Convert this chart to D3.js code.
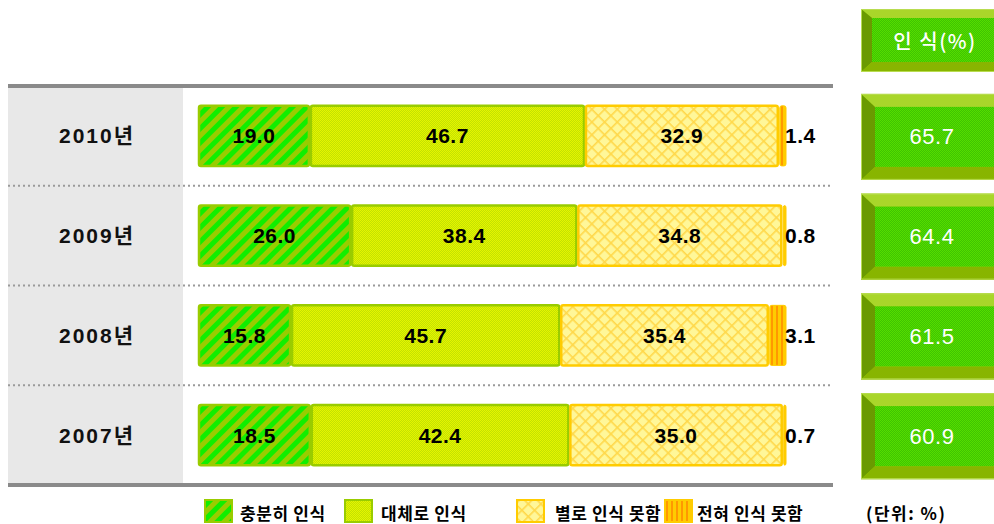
<!DOCTYPE html>
<html><head><meta charset="utf-8">
<script src="https://cdn.jsdelivr.net/npm/d3@7"></script>
<style>
html,body{margin:0;padding:0;background:#fff;}
svg{display:block;}
</style></head>
<body>
<svg id="chart" width="994" height="524"></svg>
<script>
// ---- data ----
const years = ["2010년", "2009년", "2008년", "2007년"];
const fullyAware = [19.0, 26.0, 15.8, 18.5];
const mostlyAware = [46.7, 38.4, 45.7, 42.4];
const barelyAware = [32.9, 34.8, 35.4, 35.0];
const notAware = [1.4, 0.8, 3.1, 0.7];
const awareTotal = [65.7, 64.4, 61.5, 60.9];
const seriesNames = ["충분히 인식", "대체로 인식", "별로 인식 못함", "전혀 인식 못함"];
const headerLabel = "인 식(%)";
const unitLabel = "(단위: %)";

const svg = d3.select("#chart");
const defs = svg.append("defs");

// patterns
function pat(id, w, h, draw, transform) {
  const p = defs.append("pattern").attr("id", id).attr("patternUnits", "userSpaceOnUse")
    .attr("width", w).attr("height", h);
  if (transform) p.attr("patternTransform", transform);
  draw(p);
}
pat("p0", 10, 10, p => {
  p.append("rect").attr("width", 10).attr("height", 10).attr("fill", "#99cc00");
  p.append("rect").attr("width", 5).attr("height", 10).attr("fill", "#11ee00");
}, "rotate(45)");
pat("p1", 2, 2, p => {
  p.append("rect").attr("width", 2).attr("height", 2).attr("fill", "#c2e200");
  p.append("rect").attr("width", 1).attr("height", 1).attr("fill", "#e6f400");
  p.append("rect").attr("x", 1).attr("y", 1).attr("width", 1).attr("height", 1).attr("fill", "#e6f400");
});
pat("p2", 9, 9, p => {
  p.append("rect").attr("width", 9).attr("height", 9).attr("fill", "#fff799");
  p.append("rect").attr("width", 1.6).attr("height", 9).attr("fill", "#ffd84a");
  p.append("rect").attr("width", 9).attr("height", 1.6).attr("fill", "#ffd84a");
}, "rotate(45)");
pat("p3", 5, 5, p => {
  p.append("rect").attr("width", 5).attr("height", 5).attr("fill", "#ffcc00");
  p.append("rect").attr("x", 1).attr("width", 2).attr("height", 5).attr("fill", "#ff9900");
});
pat("pg", 2, 2, p => {
  p.append("rect").attr("width", 2).attr("height", 2).attr("fill", "#3fc400");
  p.append("rect").attr("width", 1).attr("height", 1).attr("fill", "#55dd00");
  p.append("rect").attr("x", 1).attr("y", 1).attr("width", 1).attr("height", 1).attr("fill", "#55dd00");
});

const fills = ["url(#p0)", "url(#p1)", "url(#p2)", "url(#p3)"];
const strokes = ["#99cc00", "#99cc00", "#ffcc00", "#ffcc00"];

// scales
const y = d3.scaleBand().domain(years).range([86, 485]).paddingInner(0.378).paddingOuter(0.189);
const x = d3.scaleLinear().domain([0, 100]).range([198, 787]);

// left gray panel
svg.append("rect").attr("x", 8).attr("y", 86).attr("width", 175).attr("height", 399).attr("fill", "#e8e8e8");

// separators
const step = y.step();
const seps = years.slice(1).map((d, i) => 86 + step * (i + 1));
svg.selectAll(".sep").data(seps).join("line")
  .attr("x1", 8).attr("x2", 833).attr("y1", d => d).attr("y2", d => d)
  .attr("stroke", "#9a9a9a").attr("stroke-width", 2).attr("stroke-dasharray", "2,3");
svg.selectAll(".rule").data([86, 485]).join("line")
  .attr("x1", 8).attr("x2", 833).attr("y1", d => d).attr("y2", d => d)
  .attr("stroke", "#8a8a8a").attr("stroke-width", 4);

// year labels
svg.selectAll(".yr").data(years).join("text")
  .attr("x", 97).attr("y", d => y(d) + y.bandwidth() / 2)
  .attr("text-anchor", "middle").attr("dominant-baseline", "central")
  .attr("font-family", "'Liberation Sans', 'Noto Sans CJK KR', sans-serif")
  .attr("font-weight", "bold").attr("font-size", 21).attr("letter-spacing", 2)
  .attr("fill", "#111").text(d => d);

// stacked bars (100% stacked)
const rows = years.map((yr, i) => {
  const vals = [fullyAware[i], mostlyAware[i], barelyAware[i], notAware[i]];
  const tot = d3.sum(vals);
  let acc = 0;
  return vals.map((v, k) => {
    const s = { yr, k, v, x0: acc / tot * 100, x1: (acc + v) / tot * 100 };
    acc += v;
    return s;
  });
});
const segs = rows.flat();
const g = svg.append("g");
g.selectAll("rect.seg").data(segs).join("rect")
  .attr("x", d => x(d.x0) + 1).attr("y", d => y(d.yr) + 1)
  .attr("width", d => Math.max(x(d.x1) - x(d.x0) - 2, 1)).attr("height", y.bandwidth() - 2)
  .attr("rx", 2)
  .attr("fill", d => fills[d.k]).attr("stroke", d => strokes[d.k]).attr("stroke-width", d => d.k === 3 ? 1 : 2.5);

// segment labels
const lblFont = "'Liberation Sans', Arial, sans-serif";
g.selectAll("text.seg").data(segs.filter(d => d.k < 3)).join("text")
  .attr("x", d => (x(d.x0) + x(d.x1)) / 2).attr("y", d => y(d.yr) + y.bandwidth() / 2)
  .attr("text-anchor", "middle").attr("dominant-baseline", "central")
  .attr("font-family", lblFont).attr("font-weight", "bold").attr("font-size", 21).attr("letter-spacing", 0.5)
  .attr("fill", "#000").text(d => d.v.toFixed(1));
g.selectAll("text.out").data(segs.filter(d => d.k === 3)).join("text")
  .attr("x", x(100) - 2).attr("y", d => y(d.yr) + y.bandwidth() / 2)
  .attr("text-anchor", "start").attr("dominant-baseline", "central")
  .attr("font-family", lblFont).attr("font-weight", "bold").attr("font-size", 21).attr("letter-spacing", 0.5)
  .attr("fill", "#000").text(d => d.v.toFixed(1));

// bevel box
function bevelBox(parent, bx, by, bw, bh, inset) {
  const gg = parent.append("g");
  const L = inset.l, T = inset.t, B = inset.b, R = inset.r;
  gg.append("rect").attr("x", bx).attr("y", by).attr("width", bw).attr("height", bh).attr("fill", "#99cc00");
  const ix0 = bx + L, iy0 = by + T, ix1 = bx + bw - R, iy1 = by + bh - B;
  gg.append("polygon").attr("points", [[bx, by], [bx + bw, by], [ix1, iy0], [ix0, iy0]].join(" ")).attr("fill", "#a9d62a");
  gg.append("polygon").attr("points", [[bx, by], [ix0, iy0], [ix0, iy1], [bx, by + bh]].join(" ")).attr("fill", "#6a9a00");
  gg.append("polygon").attr("points", [[bx, by + bh], [ix0, iy1], [ix1, iy1], [bx + bw, by + bh]].join(" ")).attr("fill", "#88b500");
  gg.append("polygon").attr("points", [[bx + bw, by], [bx + bw, by + bh], [ix1, iy1], [ix1, iy0]].join(" ")).attr("fill", "#80ad00");
  gg.append("rect").attr("x", ix0).attr("y", iy0).attr("width", ix1 - ix0).attr("height", iy1 - iy0).attr("fill", "url(#pg)");
  gg.append("rect").attr("x", bx + 0.5).attr("y", by + 0.5).attr("width", bw - 1).attr("height", bh - 1)
    .attr("fill", "none").attr("stroke", "#b8dc50").attr("stroke-width", 1);
  return { cx: (ix0 + ix1) / 2, cy: (iy0 + iy1) / 2 };
}

// header box
const hb = bevelBox(svg, 861, 9, 150, 63, { l: 11, t: 9, b: 10, r: 11 });
svg.append("text").attr("x", 935).attr("y", hb.cy)
  .attr("text-anchor", "middle").attr("dominant-baseline", "central")
  .attr("font-family", "'Noto Sans CJK KR', sans-serif").attr("font-weight", "500").attr("font-size", 20)
  .attr("letter-spacing", 1.5)
  .attr("fill", "#fff").text(headerLabel);

// value boxes
years.forEach((yr, i) => {
  const cy = y(yr) + y.bandwidth() / 2 + 1;
  const bh = 86;
  bevelBox(svg, 861, cy - bh / 2, 150, bh, { l: 14, t: 13, b: 13, r: 14 });
  svg.append("text").attr("x", 932).attr("y", cy)
    .attr("text-anchor", "middle").attr("dominant-baseline", "central")
    .attr("font-family", lblFont).attr("font-size", 22).attr("letter-spacing", 0.5)
    .attr("fill", "#fff").text(awareTotal[i].toFixed(1));
});

// legend
const legX = [205, 345, 517, 665];
const legTX = [240, 381, 555, 697];
const lg = svg.append("g");
seriesNames.forEach((nm, k) => {
  lg.append("rect").attr("x", legX[k]).attr("y", 500).attr("width", 27).attr("height", 22)
    .attr("fill", fills[k]).attr("stroke", strokes[k]).attr("stroke-width", 2);
  lg.append("text").attr("x", legTX[k]).attr("y", 512)
    .attr("dominant-baseline", "central")
    .attr("font-family", "'Noto Sans CJK KR', sans-serif").attr("font-weight", "bold").attr("font-size", 17)
    .attr("letter-spacing", 0.6)
    .attr("fill", "#000").text(nm);
});
svg.append("text").attr("x", 866).attr("y", 512).attr("dominant-baseline", "central")
  .attr("font-family", "'Noto Sans CJK KR', sans-serif").attr("font-weight", "bold").attr("font-size", 17)
  .attr("letter-spacing", 1.5)
  .attr("fill", "#000").text(unitLabel);
</script>
</body></html>
